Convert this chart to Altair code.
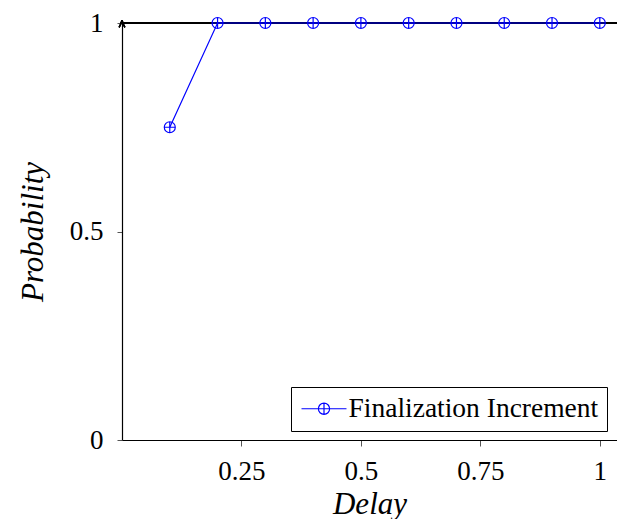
import altair as alt
import pandas as pd

# Delay values and the corresponding probability of a finalization increment
delay = [0.1, 0.2, 0.3, 0.4, 0.5, 0.6, 0.7, 0.8, 0.9, 1.0]
probability = [0.75, 1, 1, 1, 1, 1, 1, 1, 1, 1]
series = ["Finalization Increment"] * len(delay)

x_ticks = [0.25, 0.5, 0.75, 1]
y_ticks = [0, 0.5, 1]
x_domain = [0.0, 1.036]
y_domain = [0, 1]

df = pd.DataFrame({"Delay": delay, "Probability": probability, "series": series})

FONT = "Liberation Serif"
BLUE = "#0000ff"

# circle with a cross inside (the ⊕ marker)
OPLUS = "M-1,0A1,1 0 1,0 1,0A1,1 0 1,0 -1,0M0,-1V1M-1,0H1"
# legend glyph: short line through an ⊕ marker (wider than tall)
LEG = ("M-1,0H0.5M1.5,0H3"
       "M0.5,0A0.5,0.5 0 1,0 1.5,0A0.5,0.5 0 1,0 0.5,0"
       "M1,-0.5V0.5M0.5,0H1.5")

xs = alt.Scale(domain=x_domain, nice=False, zero=False)
ys = alt.Scale(domain=y_domain, nice=False, zero=False)

x_axis = alt.Axis(values=x_ticks, title="Delay", grid=False,
                  labelExpr="datum.value == 1 ? '1' : format(datum.value, '')",
                  labelPadding=12, titlePadding=5, tickSize=6)
y_axis = alt.Axis(values=y_ticks, title="Probability", grid=False,
                  labelExpr="datum.value == 1 ? '1' : datum.value == 0 ? '0' : format(datum.value, '')",
                  labelPadding=14, titlePadding=20, tickSize=5)

base = alt.Chart(df)

top_rule = base.mark_rule(color="black", strokeWidth=1).encode(
    y=alt.datum(1, scale=ys)
)

line = base.mark_line(color=BLUE, strokeWidth=1.2, clip=False).encode(
    x=alt.X("Delay:Q", scale=xs, axis=x_axis),
    y=alt.Y("Probability:Q", scale=ys, axis=y_axis),
)

points = base.mark_point(shape=OPLUS, size=121, filled=False, strokeWidth=1.2, opacity=1, clip=False).encode(
    x=alt.X("Delay:Q", scale=xs),
    y=alt.Y("Probability:Q", scale=ys),
    color=alt.Color(
        "series:N",
        scale=alt.Scale(range=[BLUE]),
        legend=alt.Legend(
            title=None, orient="none", legendX=169, legendY=364,
            symbolType=LEG, symbolSize=506, symbolStrokeWidth=1.2,
            symbolFillColor="transparent",
            labelFont=FONT, labelFontSize=27.5, labelColor="black", labelLimit=400,
            strokeColor="black", fillColor="white", padding=8,
            labelOffset=22,
        ),
    ),
)

# arrow tip at the top of the vertical axis
arrow = base.mark_point(
    shape="M-0.6,0.9Q-0.2,0.2 0,-0.6Q0.2,0.2 0.6,0.9",
    size=90, color="black", filled=False, strokeWidth=1.2, clip=False,
).encode(x=alt.datum(x_domain[0], scale=xs), y=alt.datum(1, scale=ys))

chart = alt.layer(top_rule, line, points, arrow).properties(
    width=495, height=417,
    autosize=alt.AutoSizeParams(type="none"),
    padding={"left": 122, "top": 23, "right": 0, "bottom": 79},
).configure_view(stroke=None).configure_axis(
    domainColor="black", domainWidth=1.2, tickColor="#555555", tickWidth=1,
    labelFont=FONT, labelFontSize=27, labelColor="black",
    titleFont=FONT, titleFontSize=31, titleFontStyle="italic",
    titleFontWeight="normal", titleColor="black",
)

chart.save("out.html", embed_options={"renderer": "svg", "actions": False})
